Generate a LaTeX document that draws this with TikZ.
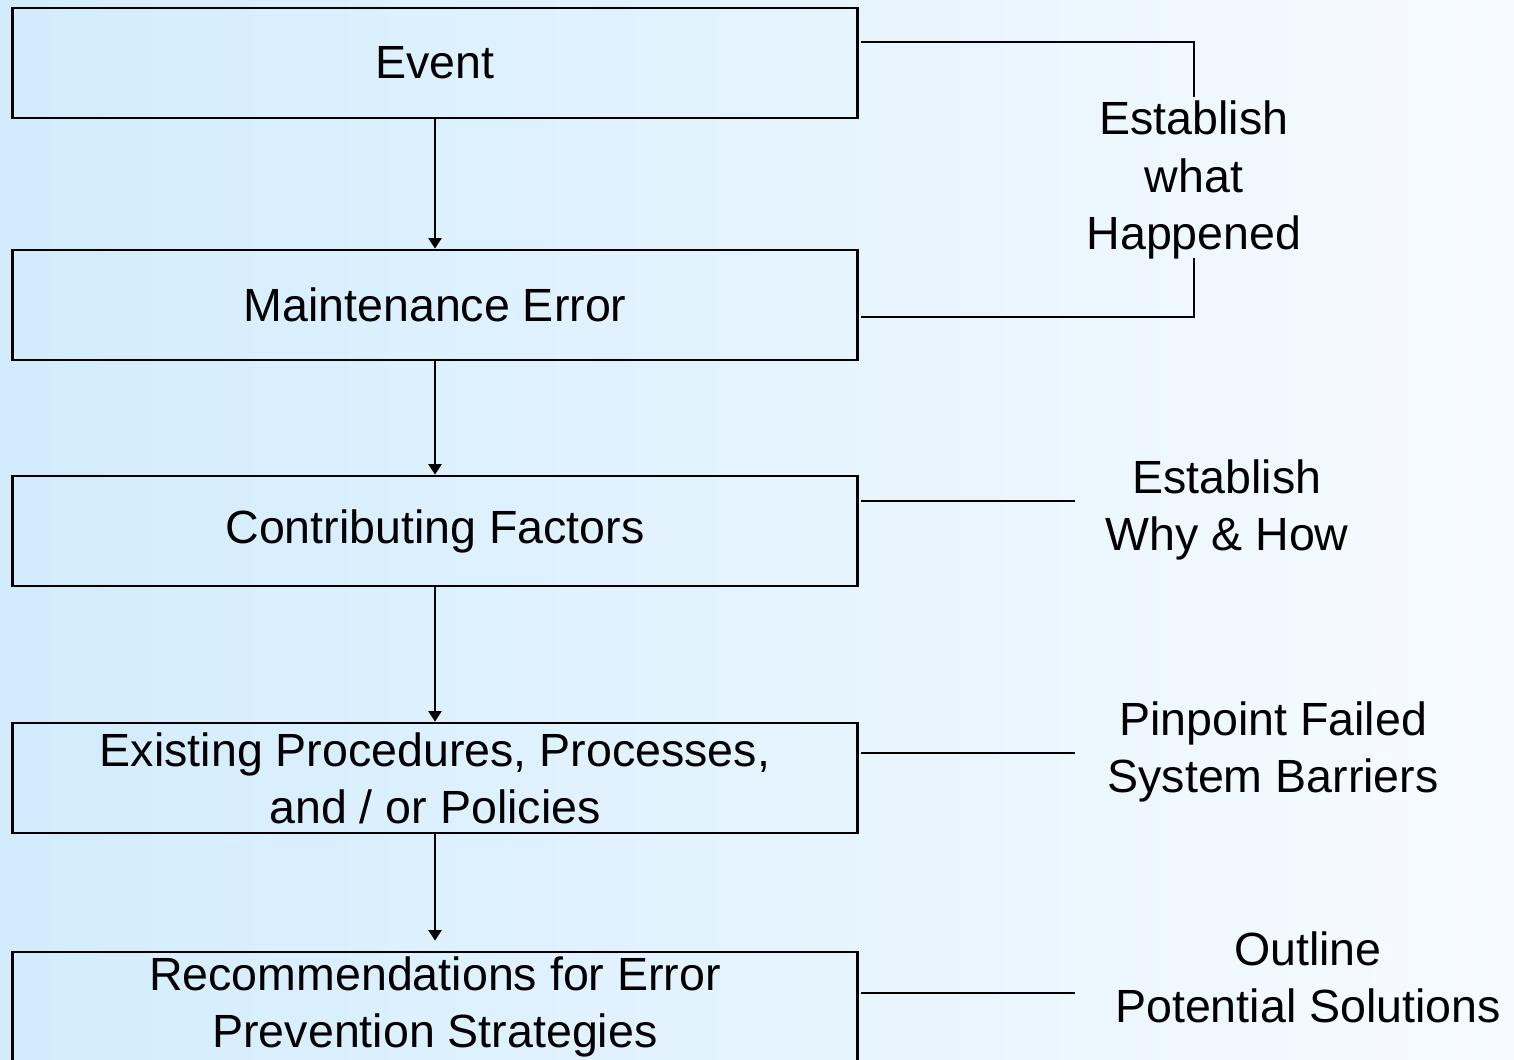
\documentclass[tikz,border=0pt]{standalone}
\usepackage{fontspec}
\setmainfont{Liberation Sans}
\usetikzlibrary{arrows.meta}
\definecolor{bgleft}{RGB}{210,236,253}
\definecolor{bgright}{RGB}{247,251,255}

\begin{document}
\begin{tikzpicture}[x=0.02cm, y=-0.02cm,
    nodes = {font=\fontsize{26.5}{32.5}\selectfont},
    stepbox/.style = {draw, line width=1.6pt, minimum width=16.9cm,
                      minimum height=2.2cm, inner sep=0pt, align=center},
    note/.style = {align=center, inner sep=0pt},
    flow/.style = {line width=1.1pt, -{Triangle[width=7.5pt,length=6pt]}},
    link/.style = {line width=1.1pt}]
    \clip (0,0) rectangle (1514,1060);                  % page = reference size
    \shade[left color=bgleft, right color=bgright] (0,0) rectangle (1514,1060);
    % Boxes of the chain
    \node[stepbox] (event) at (435,63) {Event};
    \node[stepbox] (maint) at (435,305) {Maintenance Error};
    \node[stepbox] (factors) at (435,531) {\raisebox{-0.12em}{Contributing Factors}};
    \node[stepbox] (procs) at (435,778) {Existing Procedures, Processes,\\and / or Policies};
    \node[stepbox] (recs) at (435,1007) {Recommendations for Error\\Prevention Strategies};
    \draw[flow] (event) -- (maint);
    \draw[flow] (maint) -- (factors);
    \draw[flow] (factors) -- (procs);
    \draw[flow, shorten >=0.2cm] (procs) -- (recs);
    % Notes on the right
    \node[note] (happened) at (1194,180) {Establish\\what\\Happened};
    \node[note] (whyhow) at (1227,510) {Establish\\Why \& How};
    \node[note] (barriers) at (1273,752) {Pinpoint Failed\\System Barriers};
    \node[note] (solutions) at (1308,977) {Outline\\Potential Solutions};
    % Bracket and lead lines
    \coordinate (brtop) at (1194,42);
    \coordinate (brbot) at (1194,317);
    \draw[link] ([xshift=0.04cm]event.east |- brtop) -- (brtop) -- ([yshift=0.08cm]happened.north);
    \draw[link] ([yshift=0.02cm]happened.south) -- (brbot) -- ([xshift=0.04cm]maint.east |- brbot);
    \coordinate (whyend) at (1075,501);
    \coordinate (barend) at (1075,753);
    \coordinate (solend) at (1075,993);
    \draw[link] ([xshift=0.04cm]factors.east |- whyend) -- (whyend);
    \draw[link] ([xshift=0.04cm]procs.east |- barend) -- (barend);
    \draw[link] ([xshift=0.04cm]recs.east |- solend) -- (solend);
\end{tikzpicture}
\end{document}
